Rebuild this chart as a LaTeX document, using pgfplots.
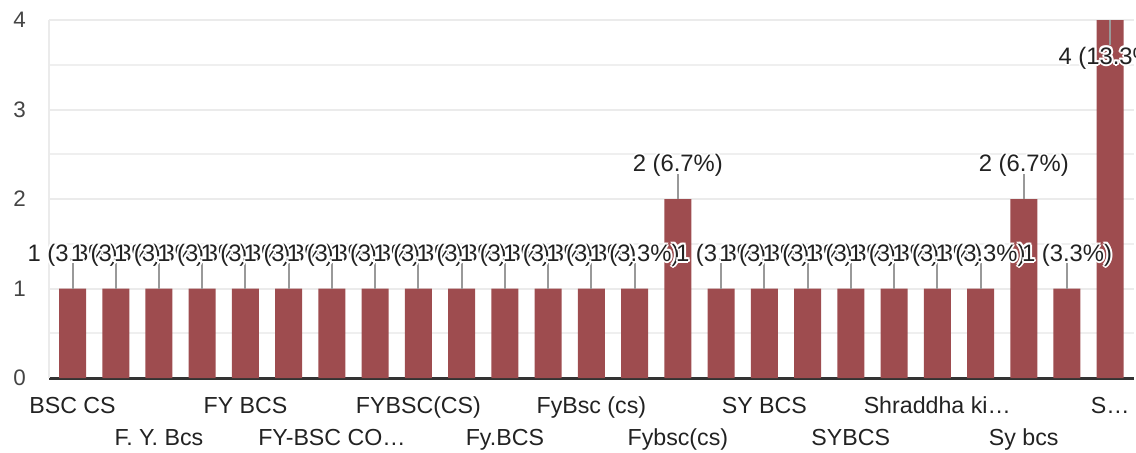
\documentclass[border=0pt]{standalone}
\usepackage{pgfplots}
\pgfplotsset{compat=1.18}
\usepackage{pgfplotstable}
\usepackage{fontspec}
\setmainfont{Liberation Sans}

\definecolor{barred}{HTML}{9E4C4F}
\definecolor{gridgray}{HTML}{EBEBEB}
\definecolor{leader}{HTML}{999999}
\definecolor{txt}{HTML}{222222}
\definecolor{ytxt}{HTML}{444444}

% white halo round a label: the text set eight times in white, then once on top
\newcommand\hl[3]{\rlap{\kern#1\raisebox{#2}{\textcolor{white}{#3}}}}
\newcommand\halo[1]{\hl{1pt}{0pt}{#1}\hl{-1pt}{0pt}{#1}\hl{0pt}{1pt}{#1}\hl{0pt}{-1pt}{#1}%
  \hl{.7pt}{.7pt}{#1}\hl{-.7pt}{.7pt}{#1}\hl{.7pt}{-.7pt}{#1}\hl{-.7pt}{-.7pt}{#1}#1}

\pgfplotstableread{
x y ep em
0 1 0.28 0
1 1 0.28 0
2 1 0.28 0
3 1 0.28 0
4 1 0.28 0
5 1 0.28 0
6 1 0.28 0
7 1 0.28 0
8 1 0.28 0
9 1 0.28 0
10 1 0.28 0
11 1 0.28 0
12 1 0.28 0
13 1 0.28 0
14 2 0.28 0
15 1 0.28 0
16 1 0.28 0
17 1 0.28 0
18 1 0.28 0
19 1 0.28 0
20 1 0.28 0
21 1 0.28 0
22 2 0.28 0
23 1 0.28 0
24 4 0 0.28
}\counts

\begin{document}
\begin{tikzpicture}
\begin{axis}[
  at={(0,0)}, anchor=south west,
  scale only axis,
  width=542.5pt, height=179pt,
  xmin=-0.544, xmax=24.55,
  ymin=0, ymax=4,
  clip=false,
  axis line style={-},
  axis x line*=bottom,
  axis y line*=left,
  x axis line style={draw=black!80, line width=1.5pt},
  y axis line style={draw=gridgray, line width=1pt},
  tick style={draw=none},
  ytick={0,1,2,3,4},
  minor y tick num=1,
  ymajorgrids, yminorgrids,
  major grid style={gridgray, line width=1pt},
  minor grid style={gridgray!80, line width=1pt},
  yticklabel style={font=\fontsize{11.2}{13}\selectfont, text=ytxt, anchor=east, xshift=-8pt},
  /pgf/number format/assume math mode=true,
  xtick={0,4,8,12,16,20,24},
  xticklabels={BSC CS, FY BCS, FYBSC(CS), FyBsc (cs), SY BCS, Shraddha ki…, S…},
  extra x ticks={2,6,10,14,18,22},
  extra x tick labels={F. Y. Bcs, FY-BSC CO…, Fy.BCS, Fybsc(cs), SYBCS, Sy bcs},
  extra x tick style={xticklabel style={yshift=-16pt}, grid=none},
  xticklabel style={font=\fontsize{11.6}{14}\selectfont, text=txt, anchor=base, yshift=-17.5pt},
]
% bars
\addplot[ybar, bar width=13.5pt, fill=barred, draw=none] table[x=x, y=y] {\counts};
% leader lines from each bar top to its label
\addplot[draw=none, mark=none,
  error bars/.cd, y dir=both, y explicit, error mark=none,
  error bar style={leader, line width=1pt}]
  table[x=x, y=y, y error plus=ep, y error minus=em] {\counts};
% labels above the bars
\addplot[draw=none, mark=none, point meta=explicit symbolic,
  nodes near coords={\halo{\pgfplotspointmeta}},
  every node near coord/.style={anchor=center, yshift=16.8pt, inner sep=0pt,
    font=\fontsize{11.9}{14}\selectfont, text=txt}]
  coordinates {
  (0,1) [1 (3.3\%)] (1,1) [1 (3.3\%)] (2,1) [1 (3.3\%)] (3,1) [1 (3.3\%)]
  (4,1) [1 (3.3\%)] (5,1) [1 (3.3\%)] (6,1) [1 (3.3\%)] (7,1) [1 (3.3\%)]
  (8,1) [1 (3.3\%)] (9,1) [1 (3.3\%)] (10,1) [1 (3.3\%)] (11,1) [1 (3.3\%)]
  (12,1) [1 (3.3\%)] (13,1) [1 (3.3\%)] (14,2) [2 (6.7\%)] (15,1) [1 (3.3\%)]
  (16,1) [1 (3.3\%)] (17,1) [1 (3.3\%)] (18,1) [1 (3.3\%)] (19,1) [1 (3.3\%)]
  (20,1) [1 (3.3\%)] (21,1) [1 (3.3\%)] (22,2) [2 (6.7\%)] (23,1) [1 (3.3\%)]
  };
% the tallest bar has its label inside, below the top
\addplot[draw=none, mark=none, point meta=explicit symbolic,
  nodes near coords={\halo{\pgfplotspointmeta}},
  every node near coord/.style={anchor=center, yshift=-19pt, inner sep=0pt,
    font=\fontsize{11.9}{14}\selectfont, text=txt}]
  coordinates {(24,4) [4 (13.3\%)]};
\end{axis}
\pgfresetboundingbox
\path[use as bounding box] (-24.5pt,-37pt) rectangle (543.5pt,189pt);
\end{tikzpicture}
\end{document}
